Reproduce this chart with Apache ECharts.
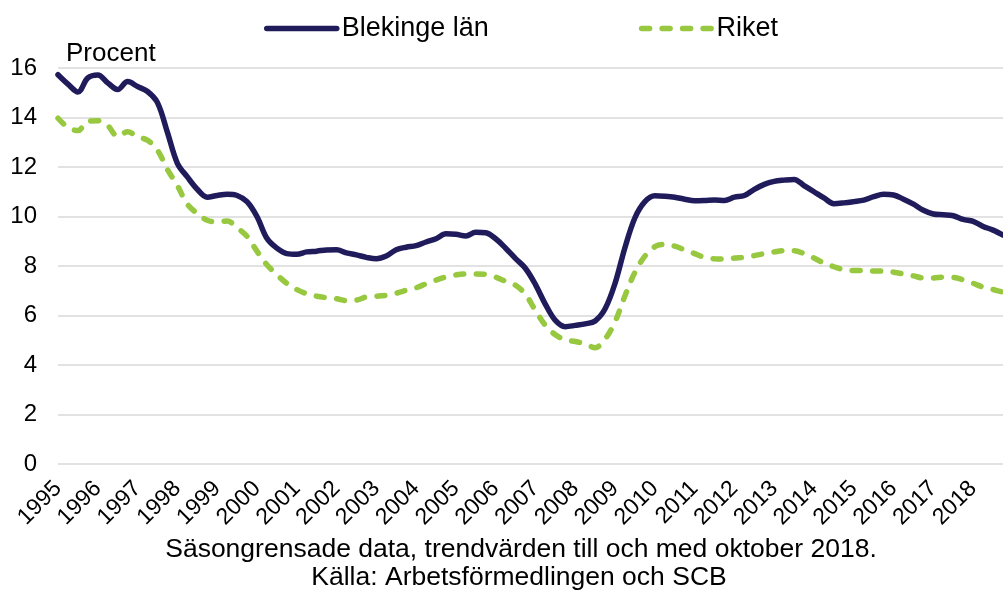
<!DOCTYPE html>
<html>
<head>
<meta charset="utf-8">
<script src="https://cdn.jsdelivr.net/npm/echarts@6/dist/echarts.min.js"></script>
<style>
  html, body { margin: 0; padding: 0; background: #fff; }
  #chart { width: 1003px; height: 590px; }
</style>
</head>
<body>
<div id="chart"></div>
<script>
// ── Data (quarterly readings, trend values, %) ─────────────────────────

const years = [1995, 1996, 1997, 1998, 1999, 2000, 2001, 2002, 2003, 2004, 2005, 2006,
  2007, 2008, 2009, 2010, 2011, 2012, 2013, 2014, 2015, 2016, 2017, 2018];
const quarters = ["K1", "K2", "K3", "K4"];

const blekinge = [
  15.73, 15.35, 15.03, 15.6,   // 1995
  15.72, 15.4, 15.13, 15.45,   // 1996
  15.25, 15.05, 14.6, 13.4,    // 1997
  12.15, 11.6, 11.1, 10.78,    // 1998
  10.85, 10.9, 10.85, 10.6,    // 1999
  10.0, 9.12, 8.72, 8.5,       // 2000
  8.47, 8.57, 8.6, 8.65,       // 2001
  8.66, 8.53, 8.45, 8.35,      // 2002
  8.29, 8.4, 8.66, 8.76,       // 2003
  8.82, 8.97, 9.1, 9.3,        // 2004
  9.28, 9.21, 9.36, 9.34,      // 2005
  9.1, 8.72, 8.3, 7.9,         // 2006
  7.25, 6.45, 5.8, 5.55,       // 2007
  5.6, 5.66, 5.78, 6.27,       // 2008
  7.3, 8.75, 9.95, 10.6,       // 2009
  10.84, 10.82, 10.78, 10.7,   // 2010
  10.64, 10.65, 10.67, 10.65,  // 2011
  10.78, 10.85, 11.1, 11.3,    // 2012
  11.42, 11.47, 11.5, 11.25,   // 2013
  11.0, 10.75, 10.52, 10.55,   // 2014
  10.6, 10.66, 10.8, 10.9,     // 2015
  10.87, 10.7, 10.5, 10.25,    // 2016
  10.1, 10.07, 10.03, 9.88,    // 2017
  9.8, 9.6, 9.45, 9.25         // 2018
];

const riket = [
  13.97, 13.6, 13.47, 13.85,   // 1995
  13.87, 13.67, 13.24, 13.42,  // 1996
  13.22, 13.08, 12.68, 11.9,   // 1997
  11.25, 10.5, 10.12, 9.85,    // 1998
  9.78, 9.82, 9.55, 9.2,       // 1999
  8.6, 8.05, 7.65, 7.3,        // 2000
  7.05, 6.88, 6.78, 6.72,      // 2001
  6.68, 6.6, 6.62, 6.75,       // 2002
  6.78, 6.82, 6.9, 7.02,       // 2003
  7.12, 7.28, 7.43, 7.56,      // 2004
  7.64, 7.68, 7.68, 7.66,      // 2005
  7.55, 7.38, 7.22, 6.85,      // 2006
  6.2, 5.6, 5.22, 5.02,        // 2007
  4.95, 4.85, 4.7, 5.05,       // 2008
  5.75, 6.8, 7.75, 8.4,        // 2009
  8.78, 8.87, 8.8, 8.65,       // 2010
  8.5, 8.35, 8.29, 8.28,       // 2011
  8.32, 8.35, 8.42, 8.5,       // 2012
  8.57, 8.62, 8.62, 8.5,       // 2013
  8.32, 8.12, 7.97, 7.85,      // 2014
  7.82, 7.82, 7.8, 7.79,       // 2015
  7.75, 7.68, 7.6, 7.52,       // 2016
  7.52, 7.55, 7.54, 7.44,      // 2017
  7.3, 7.15, 7.05, 6.94        // 2018
];

const yTicks = { min: 0, max: 16, step: 2 };
const footer = [
  "Säsongrensade data, trendvärden till och med oktober 2018.",
  "Källa: Arbetsförmedlingen och SCB",
];

// ── Chart ──────────────────────────────────────────────────────────────

const categories = years.flatMap((y) => quarters.map((q) => `${y} ${q}`));
const FONT = "Liberation Sans, Arial, sans-serif";
const NAVY = "#201c5c";
const GREEN = "#97c83f";
const LINE_W = 5.5;
const DASH = [8, 12.5];

const chart = echarts.init(document.getElementById("chart"));
chart.setOption({
  animation: false,
  textStyle: { fontFamily: FONT, color: "#000" },
  legend: {
    left: 259,
    top: 10,
    itemWidth: 70,
    itemHeight: 14,
    itemGap: 150,
    textStyle: { fontSize: 27, color: "#000", fontFamily: FONT },
    data: [
      {
        name: "Blekinge län",
        itemStyle: { opacity: 0 },
        lineStyle: { color: NAVY, width: LINE_W, cap: "round" },
      },
      {
        name: "Riket",
        itemStyle: { opacity: 0 },
        lineStyle: { color: GREEN, width: LINE_W, type: DASH, cap: "round" },
      },
    ],
  },
  grid: { left: 58, right: 0, top: 68, bottom: 126 },
  xAxis: {
    type: "category",
    data: categories,
    boundaryGap: false,
    axisLine: { show: false },
    axisTick: { show: false },
    splitLine: { show: false },
    axisLabel: {
      interval: 3,
      rotate: 45,
      margin: 21,
      fontSize: 23,
      color: "#000",
      formatter: (v) => v.slice(0, 4),
    },
  },
  yAxis: {
    type: "value",
    min: yTicks.min,
    max: yTicks.max,
    interval: yTicks.step,
    axisLine: { show: false },
    axisTick: { show: false },
    axisLabel: { fontSize: 24, color: "#000", margin: 21 },
    splitLine: { lineStyle: { color: "#d9d9d9", width: 1.5 } },
  },
  graphic: [
    { type: "text", left: 66, top: 41, style: { text: "Procent", fill: "#000", font: `26px ${FONT}` } },
    { type: "text", x: 521, y: 536, style: { text: footer[0], fill: "#000", textAlign: "center", font: `26.5px ${FONT}` } },
    { type: "text", x: 519, y: 564, style: { text: footer[1], fill: "#000", textAlign: "center", font: `26.5px ${FONT}` } },
  ],
  series: [
    {
      name: "Blekinge län",
      type: "line",
      data: blekinge,
      smooth: 0.35,
      symbol: "none",
      lineStyle: { color: NAVY, width: LINE_W, cap: "round", join: "round" },
      itemStyle: { color: NAVY },
      z: 3,
    },
    {
      name: "Riket",
      type: "line",
      data: riket,
      smooth: 0.35,
      symbol: "none",
      lineStyle: { color: GREEN, width: LINE_W, type: DASH, cap: "round" },
      itemStyle: { color: GREEN },
      z: 2,
    },
  ],
});
</script>
</body>
</html>
